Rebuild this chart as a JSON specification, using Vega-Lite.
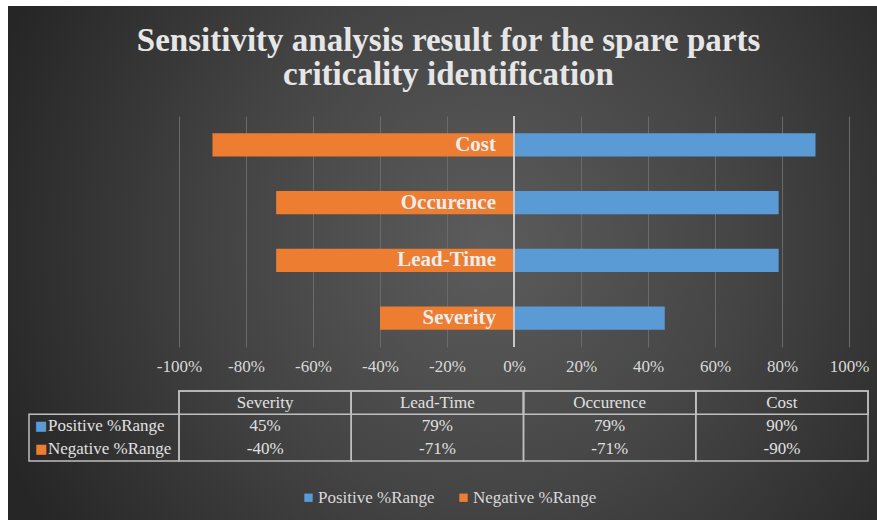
{
  "$schema": "https://vega.github.io/schema/vega-lite/v6.json",
  "background": "white",
  "padding": {"left": 8, "top": 6, "right": 0, "bottom": 0},
  "datasets": {
    "ranges": [
      {"category": "Severity", "series": "Positive %Range", "value": 0.45},
      {"category": "Severity", "series": "Negative %Range", "value": -0.40},
      {"category": "Lead-Time", "series": "Positive %Range", "value": 0.79},
      {"category": "Lead-Time", "series": "Negative %Range", "value": -0.71},
      {"category": "Occurence", "series": "Positive %Range", "value": 0.79},
      {"category": "Occurence", "series": "Negative %Range", "value": -0.71},
      {"category": "Cost", "series": "Positive %Range", "value": 0.90},
      {"category": "Cost", "series": "Negative %Range", "value": -0.90}
    ],
    "box": [{"column": "label"}],
    "frame": [{"panel": "chart"}]
  },
  "bounds": "flush",
  "spacing": 0,
  "vconcat": [
    {
      "data": {"name": "frame"},
      "width": 670,
      "height": 1,
      "mark": {
        "type": "rect",
        "color": {
          "gradient": "radial",
          "x1": 0.55, "y1": 0.48, "r1": 0,
          "x2": 0.55, "y2": 0.48, "r2": 0.6,
          "stops": [
            {"offset": 0, "color": "#5c5c5c"},
            {"offset": 0.5, "color": "#444444"},
            {"offset": 1, "color": "#262626"}
          ]
        }
      },
      "encoding": {
        "x": {"field": "panel", "type": "nominal", "scale": {"type": "band", "domain": ["chart"], "range": [-171, 698], "paddingInner": 0, "paddingOuter": 0}, "axis": null},
        "y": {"field": "panel", "type": "nominal", "scale": {"type": "band", "domain": ["chart"], "range": [-109, 405], "paddingInner": 0, "paddingOuter": 0}, "axis": null}
      }
    },
    {
      "title": {
        "text": ["Sensitivity analysis result for the spare parts", "criticality identification"],
        "anchor": "middle",
        "frame": "bounds",
        "font": "Liberation Serif",
        "fontSize": 33,
        "fontWeight": "bold",
        "color": "#e6e6e6",
        "lineHeight": 34,
        "offset": 23
      },
      "data": {"name": "ranges"},
      "bounds": "flush",
      "spacing": 44,
      "vconcat": [
        {
          "width": 670,
          "height": 231,
          "layer": [
            {
              "mark": {"type": "bar"},
              "encoding": {
                "y": {"field": "category", "type": "nominal", "sort": ["Cost", "Occurence", "Lead-Time", "Severity"], "scale": {"paddingInner": 0.6, "paddingOuter": 0.3}, "axis": null},
                "x": {
                  "field": "value", "type": "quantitative", "stack": null,
                  "scale": {"domain": [-1, 1], "nice": false},
                  "axis": {
                    "values": [-1, -0.8, -0.6, -0.4, -0.2, 0, 0.2, 0.4, 0.6, 0.8, 1],
                    "labelExpr": "replace(format(datum.value, '.0%'), '−', '-')",
                    "labelOverlap": false,
                    "labelFlush": false,
                    "title": null, "domain": false, "ticks": false,
                    "grid": true, "gridColor": "#6a6a6a", "gridWidth": 1,
                    "labelFont": "Liberation Serif", "labelFontSize": 17, "labelColor": "#d9d9d9",
                    "labelPadding": 11
                  }
                },
                "color": {
                  "field": "series", "type": "nominal",
                  "scale": {"domain": ["Positive %Range", "Negative %Range"], "range": ["#5B9BD5", "#ED7D31"]},
                  "legend": {"title": null}
                }
              }
            },
            {
              "mark": {"type": "rule", "color": "#c8c8c8", "strokeWidth": 1.5},
              "encoding": {"x": {"datum": 0}}
            },
            {
              "transform": [{"filter": "datum.series === 'Negative %Range'"}],
              "mark": {"type": "text", "align": "right", "baseline": "middle", "dx": -18, "font": "Liberation Serif", "fontWeight": "bold", "fontSize": 21, "color": "#ececec"},
              "encoding": {
                "y": {"field": "category", "type": "nominal", "sort": ["Cost", "Occurence", "Lead-Time", "Severity"]},
                "x": {"datum": 0},
                "text": {"field": "category"}
              }
            }
          ]
        },
        {
          "width": 689,
          "height": 70,
          "resolve": {"scale": {"x": "independent"}},
          "layer": [
            {
              "transform": [{"filter": "datum.series === 'Positive %Range'"}],
              "mark": {"type": "rect", "filled": false, "stroke": "#bfbfbf", "strokeWidth": 1.5},
              "encoding": {
                "x": {"field": "category", "type": "nominal", "sort": ["Severity", "Lead-Time", "Occurence", "Cost"], "scale": {"paddingInner": 0, "paddingOuter": 0}, "axis": null},
                "y": {"value": 0},
                "y2": {"value": "height"}
              }
            },
            {
              "transform": [{"filter": "datum.series === 'Positive %Range'"}],
              "mark": {"type": "rect", "filled": false, "stroke": "#bfbfbf", "strokeWidth": 1.5},
              "encoding": {
                "x": {"field": "category", "type": "nominal", "sort": ["Severity", "Lead-Time", "Occurence", "Cost"], "scale": {"paddingInner": 0, "paddingOuter": 0}, "axis": null},
                "y": {"datum": "header", "type": "nominal", "scale": {"domain": ["header", "Positive %Range", "Negative %Range"], "paddingInner": 0, "paddingOuter": 0}, "axis": null}
              }
            },
            {
              "transform": [{"filter": "datum.series === 'Positive %Range'"}],
              "mark": {"type": "text", "font": "Liberation Serif", "fontSize": 17, "color": "#e0e0e0", "baseline": "middle"},
              "encoding": {
                "x": {"field": "category", "type": "nominal", "sort": ["Severity", "Lead-Time", "Occurence", "Cost"], "scale": {"paddingInner": 0, "paddingOuter": 0}, "axis": null},
                "y": {"datum": "header", "type": "nominal", "scale": {"domain": ["header", "Positive %Range", "Negative %Range"], "paddingInner": 0, "paddingOuter": 0}, "axis": null},
                "text": {"field": "category"}
              }
            },
            {
              "transform": [{"calculate": "replace(format(datum.value, '.0%'), '−', '-')", "as": "shown"}],
              "mark": {"type": "text", "font": "Liberation Serif", "fontSize": 17, "color": "#e0e0e0", "baseline": "middle"},
              "encoding": {
                "x": {"field": "category", "type": "nominal", "sort": ["Severity", "Lead-Time", "Occurence", "Cost"], "scale": {"paddingInner": 0, "paddingOuter": 0}, "axis": null},
                "y": {"field": "series", "type": "nominal", "scale": {"domain": ["header", "Positive %Range", "Negative %Range"], "paddingInner": 0, "paddingOuter": 0}, "axis": null},
                "text": {"field": "shown"}
              }
            },
            {
              "data": {"name": "box"},
              "mark": {"type": "rect", "filled": false, "stroke": "#bfbfbf", "strokeWidth": 1.5},
              "encoding": {
                "x": {"field": "column", "type": "nominal", "scale": {"type": "band", "domain": ["label"], "range": [-150, 0], "paddingInner": 0, "paddingOuter": 0}, "axis": null},
                "y": {"datum": "Positive %Range", "type": "nominal", "bandPosition": 0, "scale": {"domain": ["header", "Positive %Range", "Negative %Range"], "paddingInner": 0, "paddingOuter": 0}, "axis": null},
                "y2": {"value": "height"}
              }
            },
            {
              "transform": [{"aggregate": [], "groupby": ["series"]}],
              "mark": {"type": "text", "font": "DejaVu Sans", "fontSize": 13, "align": "left", "baseline": "middle", "dx": 6},
              "encoding": {
                "x": {"datum": "label", "bandPosition": 0, "scale": {"type": "band", "domain": ["label"], "range": [-150, 0], "paddingInner": 0, "paddingOuter": 0}, "axis": null},
                "y": {"field": "series", "type": "nominal", "scale": {"domain": ["header", "Positive %Range", "Negative %Range"], "paddingInner": 0, "paddingOuter": 0}, "axis": null},
                "text": {"value": "■"},
                "color": {"field": "series", "type": "nominal", "scale": {"domain": ["Positive %Range", "Negative %Range"], "range": ["#5B9BD5", "#ED7D31"]}, "legend": {"title": null}}
              }
            },
            {
              "transform": [{"aggregate": [], "groupby": ["series"]}],
              "mark": {"type": "text", "font": "Liberation Serif", "fontSize": 17, "color": "#e0e0e0", "align": "left", "baseline": "middle", "dx": 19},
              "encoding": {
                "x": {"datum": "label", "bandPosition": 0, "scale": {"type": "band", "domain": ["label"], "range": [-150, 0], "paddingInner": 0, "paddingOuter": 0}, "axis": null},
                "y": {"field": "series", "type": "nominal", "scale": {"domain": ["header", "Positive %Range", "Negative %Range"], "paddingInner": 0, "paddingOuter": 0}, "axis": null},
                "text": {"field": "series"}
              }
            }
          ]
        }
      ]
    }
  ],
  "config": {
    "view": {"stroke": null},
    "font": "Liberation Serif",
    "legend": {
      "orient": "none",
      "legendX": 121,
      "legendY": 374,
      "direction": "horizontal",
      "symbolType": "square",
      "symbolSize": 70,
      "symbolStrokeWidth": 0,
      "labelFont": "Liberation Serif",
      "labelFontSize": 17,
      "labelColor": "#d9d9d9",
      "labelOffset": 1,
      "columnPadding": 20
    }
  }
}
